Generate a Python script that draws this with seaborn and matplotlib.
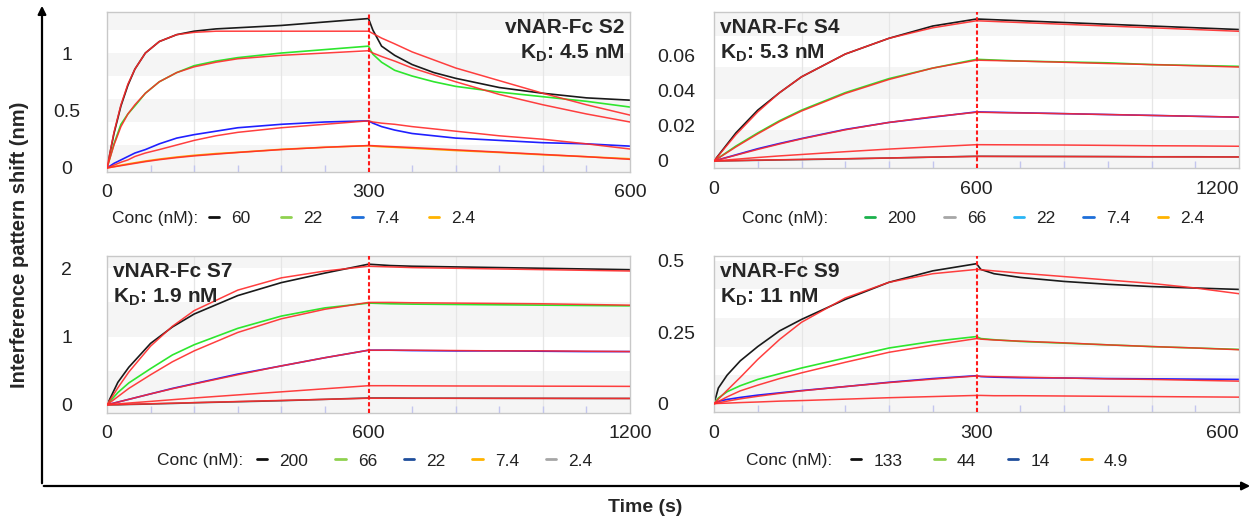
import matplotlib
matplotlib.use("Agg")
import matplotlib.pyplot as plt
import matplotlib.ticker as mticker
from matplotlib.lines import Line2D
import seaborn as sns

# ---------------- data ----------------
# vNAR-Fc S2 (association 0-300 s, dissociation 300-600 s)
s2_time = [0, 8, 16, 24, 32, 44, 60, 80, 100, 125, 150, 200, 250, 300,
           305, 315, 330, 350, 375, 400, 450, 500, 550, 600]
s2_60 = [0, 0.30, 0.54, 0.72, 0.86, 1.00, 1.10, 1.16, 1.19, 1.21, 1.22, 1.24, 1.27, 1.30,
         1.20, 1.06, 0.98, 0.90, 0.83, 0.78, 0.70, 0.65, 0.61, 0.59]
s2_60_fit = [0, 0.31, 0.55, 0.73, 0.86, 1.00, 1.10, 1.16, 1.18, 1.19, 1.19, 1.19, 1.19, 1.19,
             1.17, 1.13, 1.08, 1.01, 0.94, 0.87, 0.76, 0.65, 0.55, 0.46]
s2_22 = [0, 0.21, 0.38, 0.47, 0.54, 0.65, 0.75, 0.83, 0.89, 0.93, 0.96, 1.00, 1.03, 1.06,
         0.99, 0.92, 0.85, 0.80, 0.75, 0.71, 0.66, 0.62, 0.58, 0.53]
s2_22_fit = [0, 0.20, 0.36, 0.47, 0.55, 0.65, 0.75, 0.83, 0.88, 0.92, 0.95, 0.98, 1.00, 1.02,
             1.00, 0.97, 0.93, 0.87, 0.81, 0.75, 0.64, 0.55, 0.47, 0.40]
s2_7 = [0, 0.04, 0.07, 0.10, 0.13, 0.16, 0.21, 0.26, 0.29, 0.32, 0.35, 0.38, 0.40, 0.41,
        0.39, 0.36, 0.33, 0.30, 0.28, 0.26, 0.24, 0.22, 0.21, 0.19]
s2_7_fit = [0, 0.025, 0.05, 0.07, 0.10, 0.13, 0.16, 0.20, 0.24, 0.28, 0.31, 0.35, 0.38, 0.41,
            0.40, 0.39, 0.38, 0.36, 0.34, 0.32, 0.28, 0.25, 0.21, 0.165]
s2_2 = [0, 0.012, 0.024, 0.035, 0.045, 0.06, 0.077, 0.095, 0.11, 0.125, 0.136, 0.162, 0.18, 0.194,
        0.19, 0.185, 0.18, 0.172, 0.162, 0.152, 0.135, 0.115, 0.098, 0.08]
s2_2_fit = [0, 0.01, 0.02, 0.03, 0.04, 0.055, 0.072, 0.09, 0.105, 0.12, 0.135, 0.16, 0.18, 0.195,
            0.194, 0.19, 0.185, 0.178, 0.168, 0.158, 0.138, 0.118, 0.098, 0.075]

# vNAR-Fc S4 (association 0-600 s, dissociation 600-1200 s)
s4_time = [0, 50, 100, 150, 200, 300, 400, 500, 600, 700, 800, 900, 1000, 1100, 1200]
s4_200 = [0, 0.016, 0.029, 0.039, 0.048, 0.061, 0.070, 0.077, 0.081, 0.080, 0.079, 0.078, 0.077, 0.076, 0.075]
s4_200_fit = [0, 0.015, 0.028, 0.039, 0.048, 0.061, 0.070, 0.076, 0.080, 0.079, 0.078, 0.077, 0.076, 0.075, 0.074]
s4_66 = [0, 0.0085, 0.016, 0.023, 0.029, 0.039, 0.047, 0.053, 0.058, 0.057, 0.0565, 0.056, 0.055, 0.0545, 0.054]
s4_66_fit = [0, 0.008, 0.0155, 0.0225, 0.0285, 0.0385, 0.0465, 0.053, 0.0575, 0.057, 0.0563, 0.0556, 0.055, 0.0543, 0.0536]
s4_22 = [0, 0.0035, 0.007, 0.010, 0.0128, 0.018, 0.022, 0.025, 0.028, 0.0275, 0.027, 0.0265, 0.026, 0.0255, 0.025]
s4_22_fit = [0, 0.0033, 0.0066, 0.0097, 0.0126, 0.0178, 0.022, 0.0252, 0.0278, 0.0274, 0.027, 0.0265, 0.026, 0.0255, 0.025]
s4_7 = [0, 0.001, 0.002, 0.0029, 0.0037, 0.0053, 0.0068, 0.0081, 0.0093, 0.0092, 0.0091, 0.0089, 0.0087, 0.0086, 0.0084]
s4_2 = [0, 0.0002, 0.0004, 0.0006, 0.0008, 0.0012, 0.0017, 0.0022, 0.0027, 0.0026, 0.0026, 0.0025, 0.0024, 0.0024, 0.0023]
s4_2_fit = [0, 0.0002, 0.0005, 0.0007, 0.0009, 0.0013, 0.0017, 0.0022, 0.0026, 0.0026, 0.0025, 0.0025, 0.0024, 0.0023, 0.0023]

# vNAR-Fc S7 (association 0-600 s, dissociation 600-1200 s)
s7_time = [0, 25, 50, 100, 150, 200, 300, 400, 500, 600, 650, 700, 800, 900, 1000, 1100, 1200]
s7_200 = [0, 0.33, 0.55, 0.90, 1.14, 1.33, 1.60, 1.79, 1.93, 2.06, 2.04, 2.03, 2.02, 2.01, 2.00, 1.99, 1.98]
s7_200_fit = [0, 0.25, 0.48, 0.86, 1.15, 1.38, 1.68, 1.86, 1.96, 2.03, 2.02, 2.01, 2.00, 1.99, 1.98, 1.97, 1.96]
s7_66 = [0, 0.18, 0.32, 0.53, 0.73, 0.88, 1.12, 1.30, 1.42, 1.49, 1.48, 1.475, 1.47, 1.465, 1.46, 1.455, 1.45]
s7_66_fit = [0, 0.12, 0.24, 0.44, 0.63, 0.79, 1.06, 1.26, 1.40, 1.50, 1.50, 1.495, 1.49, 1.485, 1.48, 1.47, 1.46]
s7_22 = [0, 0.04, 0.08, 0.16, 0.24, 0.31, 0.45, 0.57, 0.69, 0.80, 0.80, 0.795, 0.79, 0.79, 0.785, 0.78, 0.78]
s7_22_fit = [0, 0.04, 0.08, 0.16, 0.235, 0.305, 0.44, 0.57, 0.69, 0.80, 0.80, 0.80, 0.795, 0.79, 0.79, 0.785, 0.78]
s7_7 = [0, 0.013, 0.026, 0.05, 0.075, 0.10, 0.145, 0.19, 0.235, 0.28, 0.28, 0.278, 0.276, 0.275, 0.273, 0.272, 0.27]
s7_2 = [0, 0.0, 0.005, 0.012, 0.02, 0.03, 0.045, 0.06, 0.08, 0.10, 0.10, 0.098, 0.097, 0.096, 0.095, 0.094, 0.093]
s7_2_fit = [0, 0.004, 0.008, 0.016, 0.024, 0.032, 0.048, 0.064, 0.08, 0.096, 0.096, 0.095, 0.095, 0.094, 0.094, 0.093, 0.093]

# vNAR-Fc S9 (association 0-300 s, dissociation 300-600 s)
s9_time = [0, 5, 15, 30, 50, 75, 100, 150, 200, 250, 300, 305, 320, 350, 400, 450, 500, 550, 600]
s9_133 = [0, 0.055, 0.10, 0.15, 0.20, 0.255, 0.295, 0.365, 0.425, 0.465, 0.49,
          0.47, 0.455, 0.442, 0.428, 0.418, 0.41, 0.405, 0.40]
s9_133_fit = [0, 0.016, 0.047, 0.092, 0.155, 0.225, 0.285, 0.37, 0.425, 0.455, 0.47,
              0.469, 0.465, 0.457, 0.445, 0.433, 0.421, 0.405, 0.385]
s9_44 = [0, 0.02, 0.042, 0.063, 0.085, 0.105, 0.125, 0.16, 0.195, 0.218, 0.235,
         0.228, 0.224, 0.218, 0.212, 0.206, 0.2, 0.195, 0.19]
s9_44_fit = [0, 0.008, 0.024, 0.045, 0.065, 0.088, 0.108, 0.145, 0.18, 0.205, 0.228,
             0.226, 0.223, 0.219, 0.213, 0.206, 0.2, 0.195, 0.189]
s9_14 = [0, 0.008, 0.015, 0.022, 0.03, 0.038, 0.046, 0.06, 0.075, 0.088, 0.098,
         0.095, 0.093, 0.091, 0.09, 0.088, 0.087, 0.086, 0.085]
s9_14_fit = [0, 0.003, 0.009, 0.017, 0.026, 0.036, 0.045, 0.06, 0.074, 0.086, 0.097,
             0.096, 0.095, 0.093, 0.09, 0.087, 0.085, 0.082, 0.079]
s9_5 = [0, 0.001, 0.002, 0.004, 0.006, 0.009, 0.011, 0.016, 0.021, 0.025, 0.029,
        0.029, 0.028, 0.028, 0.027, 0.026, 0.025, 0.024, 0.023]

# legend entries (labels as printed under each panel)
s2_conc = ["60", "22", "7.4", "2.4"]
s4_conc = ["200", "66", "22", "7.4", "2.4"]
s7_conc = ["200", "66", "22", "7.4", "2.4"]
s9_conc = ["133", "44", "14", "4.9"]

# ---------------- style ----------------
sns.set_theme(style="white")
plt.rcParams["font.family"] = ["Liberation Sans", "DejaVu Sans"]
plt.rcParams["mathtext.fontset"] = "custom"
plt.rcParams["mathtext.rm"] = "Liberation Sans"
plt.rcParams["mathtext.bf"] = "Liberation Sans:bold"

BLACK, GREEN, BLUE, ORANGE, GRAY = "#1a1a1a", "#2ee62e", "#2020ff", "#ffa000", "#505050"
FIT = "#ff2a2a"
LEG_BLACK, LEG_LGREEN, LEG_NAVY, LEG_BLUE = "#111111", "#8fd14f", "#1f4e9c", "#1e6fd9"
LEG_ORANGE, LEG_GRAY, LEG_GREEN, LEG_CYAN = "#ffb300", "#a6a6a6", "#1bb14c", "#29b6f6"

W, H = 1255, 520
fig = plt.figure(figsize=(W / 100, H / 100), dpi=100)


def px_axes(left, top, right, bottom):
    return fig.add_axes([left / W, 1 - bottom / H, (right - left) / W, (bottom - top) / H])


def conc_legend(text_x, hand_x, y, conc, colors, colspace):
    fig.text(text_x / W, 1 - y / H, "Conc (nM):", ha="left", va="center",
             fontsize=12.5, color="#222222")
    handles = [Line2D([], [], color=c, lw=2, label=lab) for lab, c in zip(conc, colors)]
    fig.legend(handles=handles, ncol=len(handles), loc="center left",
               bbox_to_anchor=(hand_x / W, 1 - y / H), frameon=False, fontsize=12.5,
               handlelength=0.6, handletextpad=0.7, columnspacing=colspace,
               borderaxespad=0, borderpad=0, labelcolor="#222222")


def draw_panel(ax, time, data, fits, t_switch, xlim, ylim, yticks, yticklabels,
               xticks, grid_step, minor_step, band_step, title, title_right, right_col):
    # alternating grey bands
    b = 0.0
    k = 0
    while b < ylim[1]:
        if k % 2 == 0:
            lo = ylim[0] if k == 0 else b
            ax.axhspan(lo, min(b + band_step, ylim[1]), color="#f5f5f5", lw=0, zorder=0)
        b += band_step
        k += 1
    for g in range(grid_step, xlim[1], grid_step):
        if g != t_switch:
            ax.axvline(g, color="#e6e6e6", lw=0.9, zorder=0.5)

    for vals, col in data:
        sns.lineplot(x=time, y=vals, ax=ax, color=col, lw=1.2, zorder=2)
    for vals in fits:
        sns.lineplot(x=time, y=vals, ax=ax, color=FIT, lw=1.1, alpha=0.9, zorder=3)
    ax.axvline(t_switch, color="#ff1a1a", lw=1.5, ls=(0, (2, 1.2)), zorder=4)

    ax.set_xlim(*xlim)
    ax.set_ylim(*ylim)
    ax.set_xticks(xticks)
    ax.set_xticklabels([str(x) for x in xticks])
    ax.set_yticks(yticks)
    ax.set_yticklabels(yticklabels)
    ax.xaxis.set_minor_locator(mticker.MultipleLocator(minor_step))
    ax.tick_params(axis="x", which="major", length=0, pad=9, labelsize=14, labelcolor="#222222")
    ax.tick_params(axis="x", which="minor", direction="in", length=5, color="#c3c6ee", bottom=True)
    if right_col:
        ax.tick_params(axis="y", which="major", length=0, pad=41, labelsize=14, labelcolor="#222222")
        for lbl in ax.get_yticklabels():
            lbl.set_horizontalalignment("left")
        ax.get_xticklabels()[-1].set_horizontalalignment("right")
    else:
        ax.tick_params(axis="y", which="major", length=0, pad=29, labelsize=14, labelcolor="#222222")
        for lbl in ax.get_yticklabels():
            lbl.set_horizontalalignment("center")
    ax.set_xlabel("")
    ax.set_ylabel("")
    for sp in ax.spines.values():
        sp.set_color("#c8c8c8")
        sp.set_linewidth(1.0)

    if title_right:
        ax.text(0.99, 0.96, title, transform=ax.transAxes, ha="right", va="top",
                fontsize=15, fontweight="bold", linespacing=1.3, zorder=5)
    else:
        ax.text(0.012, 0.96, title, transform=ax.transAxes, ha="left", va="top",
                fontsize=15, fontweight="bold", linespacing=1.3, zorder=5)


ax1 = px_axes(107, 12, 630, 172)
draw_panel(ax1, s2_time,
           [(s2_60, BLACK), (s2_22, GREEN), (s2_7, BLUE), (s2_2, ORANGE)],
           [s2_60_fit, s2_22_fit, s2_7_fit, s2_2_fit],
           300, (0, 600), (-0.035, 1.357), [0, 0.5, 1], ["0", "0.5", "1"],
           [0, 300, 600], 100, 50, 0.2,
           "vNAR-Fc S2\nK$_\\mathbf{D}$: 4.5 nM", True, False)
conc_legend(112, 209, 218, s2_conc, [LEG_BLACK, LEG_LGREEN, LEG_BLUE, LEG_ORANGE], 1.72)

ax2 = px_axes(714, 12, 1239, 168)
draw_panel(ax2, s4_time,
           [(s4_200, BLACK), (s4_66, GREEN), (s4_22, BLUE), (s4_2, GRAY)],
           [s4_200_fit, s4_66_fit, s4_22_fit, s4_7, s4_2_fit],
           600, (0, 1200), (-0.004, 0.085), [0, 0.02, 0.04, 0.06], ["0", "0.02", "0.04", "0.06"],
           [0, 600, 1200], 200, 100, 0.0178,
           "vNAR-Fc S4\nK$_\\mathbf{D}$: 5.3 nM", False, True)
conc_legend(742, 865, 218, s4_conc, [LEG_GREEN, LEG_GRAY, LEG_CYAN, LEG_BLUE, LEG_ORANGE], 1.6)

ax3 = px_axes(107, 256, 630, 413)
draw_panel(ax3, s7_time,
           [(s7_200, BLACK), (s7_66, GREEN), (s7_22, BLUE), (s7_2, GRAY)],
           [s7_200_fit, s7_66_fit, s7_22_fit, s7_7, s7_2_fit],
           600, (0, 1200), (-0.12, 2.18), [0, 1, 2], ["0", "1", "2"],
           [0, 600, 1200], 200, 100, 0.5,
           "vNAR-Fc S7\nK$_\\mathbf{D}$: 1.9 nM", False, False)
conc_legend(157, 257, 461, s7_conc, [LEG_BLACK, LEG_LGREEN, LEG_NAVY, LEG_ORANGE, LEG_GRAY], 1.54)

ax4 = px_axes(714, 256, 1239, 412)
draw_panel(ax4, s9_time,
           [(s9_133, BLACK), (s9_44, GREEN), (s9_14, BLUE)],
           [s9_133_fit, s9_44_fit, s9_14_fit, s9_5],
           300, (0, 600), (-0.029, 0.517), [0, 0.25, 0.5], ["0", "0.25", "0.5"],
           [0, 300, 600], 100, 50, 0.1,
           "vNAR-Fc S9\nK$_\\mathbf{D}$: 11 nM", False, True)
conc_legend(746, 851, 461, s9_conc, [LEG_BLACK, LEG_LGREEN, LEG_NAVY, LEG_ORANGE], 1.82)

# outer axes with arrows and shared labels
frame = fig.add_axes([0, 0, 1, 1], zorder=-1)
frame.set_xlim(0, W)
frame.set_ylim(H, 0)
frame.axis("off")
frame.annotate("", xy=(42, 3), xytext=(42, 486),
               arrowprops=dict(arrowstyle="-|>", lw=1.6, color="black", mutation_scale=12))
frame.annotate("", xy=(1253, 486), xytext=(41, 486),
               arrowprops=dict(arrowstyle="-|>", lw=1.6, color="black", mutation_scale=12))
frame.text(20, 245, "Interference pattern shift (nm)", rotation=90, ha="center", va="center",
           fontsize=14.5, fontweight="bold")
frame.text(645, 507, "Time (s)", ha="center", va="center", fontsize=14, fontweight="bold")

fig.savefig("out.png", dpi=100)
